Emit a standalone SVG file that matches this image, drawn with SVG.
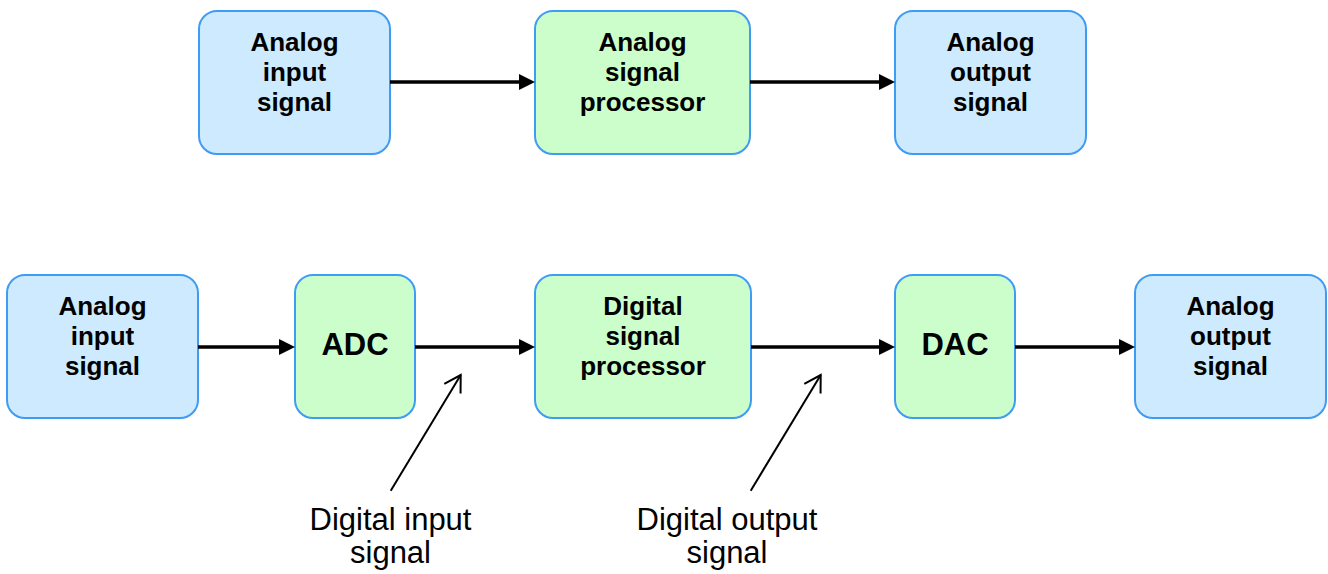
<svg xmlns="http://www.w3.org/2000/svg" width="1328" height="574" viewBox="0 0 1328 574">
<style>
.box{stroke:#3f9cf3;stroke-width:2}
.blue{fill:#cdeafe}
.green{fill:#ccfecc}
.t{font-family:"Liberation Sans",Arial,sans-serif;font-weight:bold;font-size:26px;text-anchor:middle;fill:#000}
.big{font-size:31px}
.lab{font-family:"Liberation Sans",Arial,sans-serif;font-size:31px;text-anchor:middle;fill:#000}
.conn{stroke:#000;stroke-width:3.5;fill:none}
.ann{stroke:#000;stroke-width:2;fill:none}
</style>
<defs>
<marker id="ah" markerUnits="userSpaceOnUse" viewBox="0 0 16 16" markerWidth="16" markerHeight="16" refX="1" refY="8" orient="auto">
<path d="M0,0 L16,8 L0,16 Z" fill="#000"/>
</marker>
<marker id="oh" markerUnits="userSpaceOnUse" viewBox="-2 -2 20 23" markerWidth="20" markerHeight="23" refX="16" refY="9.5" orient="auto">
<path d="M0,0 L16,9.5 L0,19" fill="none" stroke="#000" stroke-width="2"/>
</marker>
</defs>
<g id="top-in"><rect class="box blue" x="199" y="11" width="191" height="143" rx="18"/>
<text class="t" x="294.5" y="51">Analog</text><text class="t" x="294.5" y="81">input</text><text class="t" x="294.5" y="111">signal</text></g>
<g id="top-asp"><rect class="box green" x="535" y="11" width="215" height="143" rx="18"/>
<text class="t" x="642.5" y="51">Analog</text><text class="t" x="642.5" y="81">signal</text><text class="t" x="642.5" y="111">processor</text></g>
<g id="top-out"><rect class="box blue" x="895" y="11" width="191" height="143" rx="18"/>
<text class="t" x="990.5" y="51">Analog</text><text class="t" x="990.5" y="81">output</text><text class="t" x="990.5" y="111">signal</text></g>
<g id="bot-in"><rect class="box blue" x="7" y="275" width="191" height="143" rx="18"/>
<text class="t" x="102.5" y="315">Analog</text><text class="t" x="102.5" y="345">input</text><text class="t" x="102.5" y="375">signal</text></g>
<g id="adc"><rect class="box green" x="295" y="275" width="120" height="143" rx="18"/>
<text class="t big" x="355" y="355">ADC</text></g>
<g id="dsp"><rect class="box green" x="535" y="275" width="216" height="143" rx="18"/>
<text class="t" x="643" y="315">Digital</text><text class="t" x="643" y="345">signal</text><text class="t" x="643" y="375">processor</text></g>
<g id="dac"><rect class="box green" x="895" y="275" width="120" height="143" rx="18"/>
<text class="t big" x="955" y="355">DAC</text></g>
<g id="bot-out"><rect class="box blue" x="1135" y="275" width="191" height="143" rx="18"/>
<text class="t" x="1230.5" y="315">Analog</text><text class="t" x="1230.5" y="345">output</text><text class="t" x="1230.5" y="375">signal</text></g>
<g id="connectors">
<path class="conn" d="M390,82 H520" marker-end="url(#ah)"/>
<path class="conn" d="M750,82 H880" marker-end="url(#ah)"/>
<path class="conn" d="M198,347 H280" marker-end="url(#ah)"/>
<path class="conn" d="M415,347 H520" marker-end="url(#ah)"/>
<path class="conn" d="M751,347 H880" marker-end="url(#ah)"/>
<path class="conn" d="M1015,347 H1120" marker-end="url(#ah)"/>
<path class="ann" d="M390.7,490.7 L460.7,375" marker-end="url(#oh)"/>
<path class="ann" d="M750.7,490.7 L820.7,375" marker-end="url(#oh)"/>
</g>
<g id="label-din"><text class="lab" x="390.5" y="530">Digital input</text><text class="lab" x="390.5" y="563">signal</text></g>
<g id="label-dout"><text class="lab" x="727" y="530">Digital output</text><text class="lab" x="727" y="563">signal</text></g>
</svg>
